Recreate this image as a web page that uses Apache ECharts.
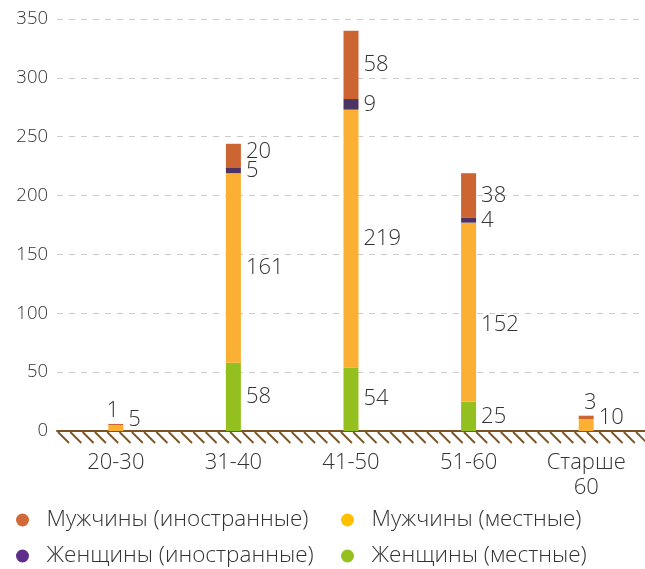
<!DOCTYPE html>
<html>
<head>
<meta charset="utf-8">
<script src="https://cdn.jsdelivr.net/npm/echarts@6/dist/echarts.min.js"></script>
<style>html,body{margin:0;padding:0;background:#fff}#c{width:645px;height:569px}</style>
</head>
<body>
<div id="c"></div>
<script>
var categories = ['20-30', '31-40', '41-50', '51-60', 'Старше\n60'];
var womenLocal = [0, 58, 54, 25, 0];
var menLocal = [5, 161, 219, 152, 10];
var womenForeign = [0, 5, 9, 4, 0];
var menForeign = [1, 20, 58, 38, 3];
var yTicks = [0, 50, 100, 150, 200, 250, 300, 350];

var FONT = '"Open Sans", "Noto Sans", sans-serif';
var W = 300;
var chart = echarts.init(document.getElementById('c'));

function lbl(extra) {
  var o = {show: true, position: 'right', distance: 5, fontSize: 22, fontWeight: W, color: '#333', fontFamily: FONT,
    formatter: function (p) { return p.value > 0 ? String(p.value) : ''; }};
  for (var k in extra) o[k] = extra[k];
  return o;
}
function mk(name, arr, color, overrides) {
  return {
    name: name, type: 'bar', stack: 'a', barWidth: 15,
    itemStyle: {color: color},
    label: lbl({}),
    data: arr.map(function (v, i) {
      var d = {value: v};
      if (overrides && overrides[i]) d.label = overrides[i];
      return d;
    })
  };
}

var series = [
  mk('Женщины (местные)', womenLocal, '#93C01F'),
  mk('Мужчины (местные)', menLocal, '#FBB034', {0: {offset: [0, -8]}, 3: {offset: [0, 13]}, 4: {offset: [0, -7]}}),
  mk('Женщины (иностранные)', womenForeign, '#4B3366'),
  mk('Мужчины (иностранные)', menForeign, '#CD6533', {0: {position: 'top', distance: 2, offset: [-3, 0]}, 1: {offset: [0, -4]}, 4: {position: 'top', distance: 2, offset: [4, 0]}})
];

var legendText = {fontSize: 22.5, fontWeight: W, color: '#333', fontFamily: FONT, lineHeight: 26};
function leg(left, top, name, color) {
  return {left: left, top: top, orient: 'horizontal', padding: 0, icon: 'circle', itemWidth: 38, itemHeight: 13,
    textStyle: legendText, data: [{name: name, itemStyle: {color: color}}]};
}
chart.setOption({
  animation: false,
  grid: {left: 57, right: -4, top: 19, bottom: 138, containLabel: false},
  xAxis: {
    type: 'category', data: categories,
    axisLine: {show: true, lineStyle: {color: '#7B5426', width: 2}},
    axisTick: {show: false},
    axisLabel: {fontSize: 22, fontWeight: W, color: '#333', fontFamily: FONT, margin: 19, lineHeight: 25}
  },
  yAxis: {
    type: 'value', min: 0, max: 350, interval: 50,
    axisLine: {show: false}, axisTick: {show: false},
    axisLabel: {fontSize: 18.5, fontWeight: W, color: '#333', fontFamily: FONT, margin: 9,
      formatter: function (v) { return yTicks.indexOf(v) >= 0 ? String(v) : ''; }},
    splitLine: {lineStyle: {color: '#cccccc', type: [6, 6], width: 1}}
  },
  legend: [
    leg(16, 507, 'Мужчины (иностранные)', '#D2693A'),
    leg(16, 543, 'Женщины (иностранные)', '#5F2D8B'),
    leg(341, 507, 'Мужчины (местные)', '#FFC000'),
    leg(341, 543, 'Женщины (местные)', '#95C11F')
  ],
  series: series
});

// hatched ground under the axis
var p0 = chart.convertToPixel({gridIndex: 0}, [0, 0]);
var gridRect = chart.getModel().getComponent('grid').coordinateSystem.getRect();
var hatch = [];
var y0 = p0[1] + 1, h = 11, step = 12.3;
for (var x = gridRect.x + 1; x < 645; x += step) {
  hatch.push({type: 'line', silent: true,
    shape: {x1: x, y1: y0, x2: x + h, y2: y0 + h},
    style: {stroke: '#7B5426', lineWidth: 1.8}});
}
chart.setOption({graphic: [{type: 'group', children: hatch}]});
</script>
</body>
</html>
